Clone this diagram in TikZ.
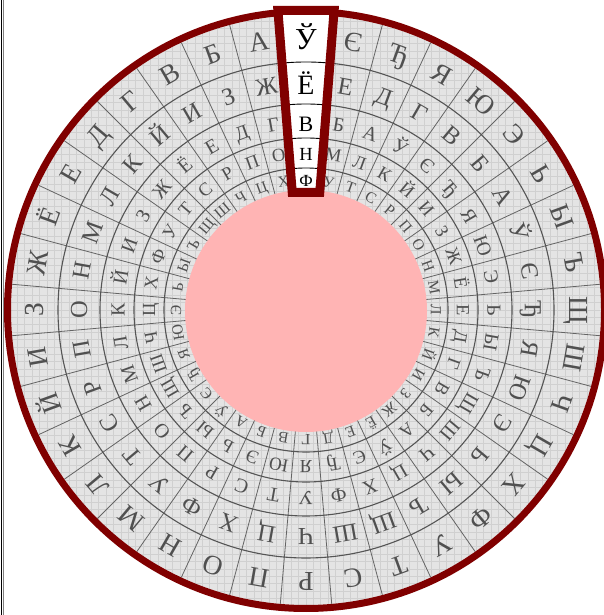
\documentclass[tikz,border=0pt]{standalone}
\usepackage{fontspec}
\setmainfont{Liberation Serif}
\definecolor{redc}{RGB}{128,0,0}
\definecolor{pinkc}{RGB}{255,180,180}
\definecolor{bgc}{RGB}{228,228,228}
\definecolor{gridc}{RGB}{208,208,208}
\definecolor{ringc}{RGB}{85,85,85}
\definecolor{radc}{RGB}{100,100,100}
\definecolor{letc}{RGB}{80,80,80}
\newcommand{\cyrlist}{А,Б,В,Г,Д,Е,Ё,Ж,З,И,Й,К,Л,М,Н,О,П,Р,С,Т,У,Ф,Х,Ц,Ч,Ш,Щ,Ъ,Ы,Ь,Э,Ю,Я,Ђ,Є,Ў}
\tikzset{
  ringline/.style={draw=ringc, line width=1.1pt},
  radline/.style={draw=radc, line width=0.8pt},
  greyletter/.style={inner sep=0pt, text=letc, text depth=0pt},
  winletter/.style={inner sep=0pt, text=black, text depth=0pt},
  winsep/.style={draw=black, line width=0.9pt},
}
\begin{document}
\begin{tikzpicture}[x=1pt,y=1pt]
\useasboundingbox (0,0) rectangle (603,615);
\fill[white] (0,0) rectangle (603,615);
\draw[black, line width=1.2pt] (1.2,0) -- (1.2,615);
\draw[gray, line width=0.8pt] (3,0) -- (3,615);
\begin{scope}[shift={(306,305)}]
  % annulus background with grid
  \begin{scope}
    \clip (0,0) circle (295);
    \fill[bgc] (0,0) circle (295);
    \draw[gridc, line width=0.8pt, step=7.4pt] (-300,-300) grid (300,300);
  \end{scope}
  % radial separators
  \foreach \j in {0,...,35} {
    \draw[radline] (85+10*\j:112) -- (85+10*\j:295);
  }
  % ring circles
  \foreach \r in {248,206,172,142} {
    \draw[ringline] (0,0) circle (\r);
  }
  % grey letters
  \foreach \rid/\t/\rr/\fs in {1/35/272/27.5, 2/6/227/24.5, 3/2/188/20, 4/14/157/18.5, 5/21/130/15.5} {
    \pgfmathsetmacro{\th}{\fs*0.655}
    \foreach \L [count=\k from 0] in \cyrlist {
      \ifnum\k=\t\relax\else
        \pgfmathsetmacro{\ang}{90+10*(\k-\t)}
        \node[greyletter, text height=\th pt, rotate=\ang-90,
              font=\fontsize{\fs}{\fs}\selectfont] (g\rid-\k) at (\ang:\rr) {\L};
      \fi
    }
  }
  % pink centre
  \fill[pinkc] (0,-1) circle (121);
  % outer red ring
  \draw[redc, line width=7pt] (0,0) circle (298.5);
  % window
  \fill[white] (-28.1,299.5) -- (28.1,299.5) -- (13.75,117.5) -- (-13.75,117.5) -- cycle;
  \begin{scope}
    \clip (-28.1,299.5) -- (28.1,299.5) -- (13.75,117.5) -- (-13.75,117.5) -- cycle;
    \foreach \r in {248,206,172,142} {
      \draw[winsep] (0,0) circle (\r);
    }
  \end{scope}
  \node[winletter, text height=20pt, font=\fontsize{30.5}{30.5}\selectfont] (w1) at (90:270) {Ў};
  \node[winletter, text height=18.3pt, font=\fontsize{28}{28}\selectfont] (w2) at (90:225) {Ё};
  \node[winletter, text height=14.4pt, font=\fontsize{22}{22}\selectfont] (w3) at (90:186) {В};
  \node[winletter, text height=12.1pt, font=\fontsize{18.5}{18.5}\selectfont] (w4) at (90:156) {Н};
  \node[winletter, text height=11.1pt, font=\fontsize{17}{17}\selectfont] (w5) at (90:129.5) {Ф};
  \draw[redc, line width=9pt, line join=miter] (-28.1,299.5) -- (28.1,299.5) -- (13.75,117.5) -- (-13.75,117.5) -- cycle;
\end{scope}
\end{tikzpicture}
\end{document}
